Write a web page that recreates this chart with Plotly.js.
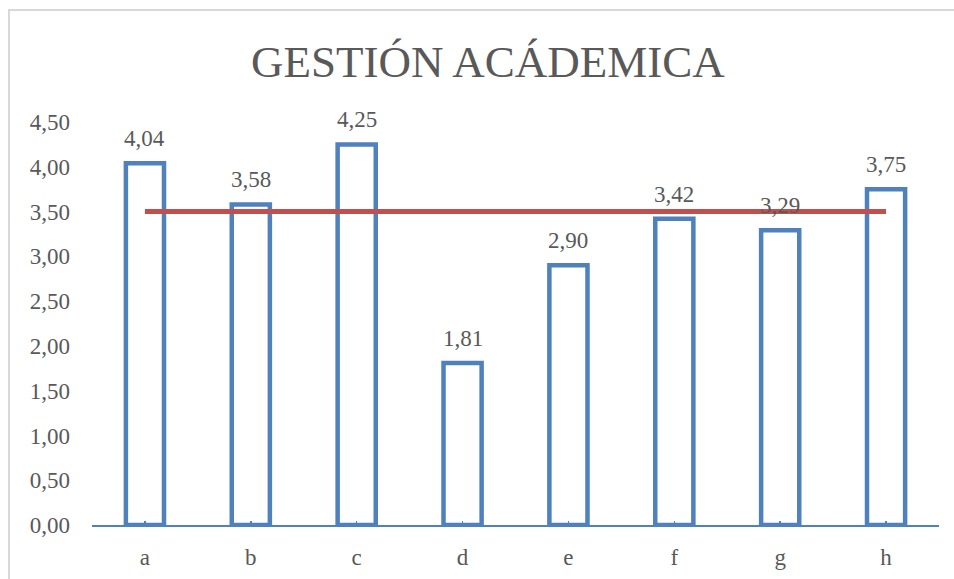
<!DOCTYPE html>
<html>
<head>
<meta charset="utf-8">
<script src="https://cdn.plot.ly/plotly-3.0.1.min.js"></script>
<style>html,body{margin:0;padding:0;background:#fff;}#chart{width:954px;height:579px;}</style>
</head>
<body>
<div id="chart"></div>
<script>
const categories = ['a','b','c','d','e','f','g','h'];
const values = [4.04, 3.58, 4.25, 1.81, 2.90, 3.42, 3.29, 3.75];
const reference = [3.5, 3.5, 3.5, 3.5, 3.5, 3.5, 3.5, 3.5];
const yTicks = [0, 0.5, 1, 1.5, 2, 2.5, 3, 3.5, 4, 4.5];

const FONT = 'Liberation Serif, DejaVu Serif, serif';
const GRAY = '#595959';

const fmt = v => v.toFixed(2).replace('.', ',');

const bars = {
  type: 'bar', x: categories, y: values,
  width: 0.36,
  marker: {color: 'rgba(255,255,255,0)', line: {color: '#4F81BD', width: 4.5}},
  hoverinfo: 'none', showlegend: false
};
const line = {
  type: 'scatter', mode: 'lines', x: categories, y: reference,
  line: {color: '#C0504D', width: 5},
  hoverinfo: 'none', showlegend: false
};

const annotations = categories.map((c, i) => ({
  x: c, y: values[i], xref: 'x', yref: 'y',
  text: fmt(values[i]), showarrow: false,
  yanchor: 'bottom', yshift: 10,
  font: {family: FONT, size: 23, color: GRAY}
}));

const layout = {
  width: 954, height: 579,
  margin: {l: 92, r: 15, t: 122, b: 54},
  paper_bgcolor: '#fff', plot_bgcolor: '#fff',
  separators: ',.',
  title: {text: 'GESTIÓN ACÁDEMICA', x: 0.4675, xref: 'paper', xanchor: 'center',
          y: 58, yref: 'container', yanchor: 'middle',
          font: {family: FONT, size: 45, color: GRAY}},
  xaxis: {type: 'category', range: [-0.5, 7.5], showgrid: false, zeroline: false,
          showline: true, linecolor: '#4F81BD', linewidth: 1.5,
          ticks: 'inside', ticklen: 4, tickcolor: '#4F81BD', tickwidth: 1.5,
          tickfont: {family: FONT, size: 23, color: GRAY}, ticklabelstandoff: 11},
  yaxis: {range: [0, 4.5], tickvals: yTicks, tickformat: '.2f', showgrid: false,
          zeroline: false, showline: false, ticks: '',
          tickfont: {family: FONT, size: 23, color: GRAY}, ticklabelstandoff: 21},
  annotations: annotations,
  shapes: [{type: 'rect', xref: 'paper', yref: 'paper',
            x0: -0.098, y0: -1, x1: 2, y1: 1.278,
            line: {color: '#D9D9D9', width: 2}, fillcolor: 'rgba(0,0,0,0)', layer: 'below'}]
};

Plotly.newPlot('chart', [bars, line], layout, {displayModeBar: false, staticPlot: true});
</script>
</body>
</html>
